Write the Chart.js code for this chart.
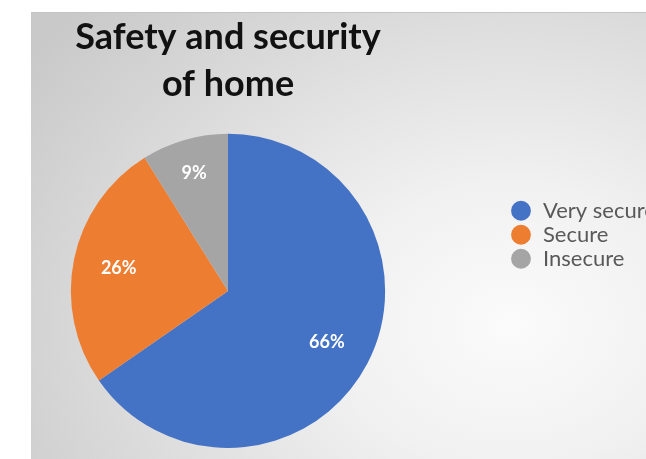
<!DOCTYPE html>
<html>
<head>
<meta charset="utf-8">
<script src="https://cdn.jsdelivr.net/npm/chart.js@4.4.1/dist/chart.umd.min.js"></script>
<style>
  html, body { margin: 0; padding: 0; background: #fff; overflow: hidden; }
  #frame {
    position: absolute; left: 31px; top: 12px; width: 615px; height: 447px;
    border-top: 1px solid #c4c4c4; box-sizing: border-box;
    background: radial-gradient(ellipse 95% 105% at 78% 70%, #fbfbfb 0%, #f1f1f1 30%, #dddddd 65%, #c9c9c9 100%);
  }
</style>
</head>
<body>
<div id="frame"><canvas id="pie"></canvas></div>
<script>
const categories = ['Very secure', 'Secure', 'Insecure'];
const shares = [66, 26, 9];
const sliceColors = ['#4472C4', '#ED7D31', '#A5A5A5'];
const titleLines = ['Safety and security', 'of home'];

// white percentage labels inside the slices
const sliceLabels = {
  id: 'sliceLabels',
  afterDatasetsDraw(chart) {
    const ctx = chart.ctx;
    const meta = chart.getDatasetMeta(0);
    ctx.save();
    ctx.fillStyle = '#fff';
    ctx.font = 'bold 18px Lato';
    ctx.textAlign = 'center';
    ctx.textBaseline = 'middle';
    meta.data.forEach((arc, i) => {
      const p = arc.getProps(['x', 'y', 'startAngle', 'endAngle', 'outerRadius'], true);
      const mid = (p.startAngle + p.endAngle) / 2;
      const r = p.outerRadius * (shares[i] < 15 ? 0.78 : 0.71);
      ctx.fillText(shares[i] + '%', p.x + Math.cos(mid) * r, p.y + Math.sin(mid) * r);
    });
    ctx.restore();
  }
};

// excel puts the legend off to the right of the pie, not centred in the leftover space
const legendSpot = {
  id: 'legendSpot',
  afterLayout(chart) {
    const lg = chart.legend;
    const area = chart.chartArea;
    lg.left = area.right + 83;
    lg.right = lg.left + 300;
    lg.top = area.top + 64;
    lg.bottom = lg.top + 120;
  }
};

new Chart(document.getElementById('pie'), {
  type: 'pie',
  data: {
    labels: categories,
    datasets: [{
      data: shares,
      backgroundColor: sliceColors,
      borderWidth: 0
    }]
  },
  options: {
    responsive: true,
    maintainAspectRatio: false,
    animation: false,
    layout: { padding: { left: 0, right: 221, top: 0, bottom: 11 } },
    plugins: {
      title: {
        display: true,
        text: titleLines,
        color: '#111',
        font: { family: 'Lato', size: 36, weight: 'bold', lineHeight: 1.33 },
        padding: { top: 0, bottom: 25 }
      },
      legend: {
        position: 'chartArea',
        align: 'start',
        labels: {
          usePointStyle: true,
          pointStyle: 'circle',
          boxWidth: 22,
          boxHeight: 14,
          padding: 2,
          color: '#595959',
          font: { family: 'Lato', size: 22 }
        }
      },
      tooltip: { enabled: false }
    }
  },
  plugins: [sliceLabels, legendSpot]
});
</script>
</body>
</html>
